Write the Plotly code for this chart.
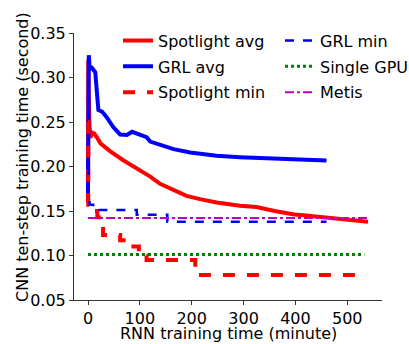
import plotly.graph_objects as go

# ---- data ----
spot_avg_x = [0, 0.5, 1.5, 3, 5, 7, 9, 11, 14, 18, 24, 43, 68, 100, 120, 139, 165, 190, 216, 248, 293, 325,
              360, 398, 420, 482, 540]
spot_avg_y = [0.16, 0.32, 0.28, 0.245, 0.232, 0.24, 0.235, 0.238, 0.236, 0.232, 0.226, 0.217, 0.207, 0.196,
              0.1887, 0.1805, 0.1738, 0.167, 0.1633, 0.1596, 0.1558, 0.1544, 0.150, 0.146, 0.145, 0.1416, 0.138]

grl_avg_x = [0, 0.5, 1.5, 3, 4.5, 6, 9, 14, 20, 27, 36, 49, 62, 75, 85, 94, 113, 120, 139, 165, 197, 248,
             293, 331, 400, 460]
grl_avg_y = [0.17, 0.30, 0.325, 0.312, 0.3085, 0.312, 0.31, 0.306, 0.2635, 0.2617, 0.2554, 0.244, 0.236,
             0.2355, 0.239, 0.2374, 0.233, 0.228, 0.2243, 0.2195, 0.2157, 0.212, 0.2105, 0.2094, 0.2078, 0.2067]

spot_min_x = [0, 0.5, 5, 18, 29, 62, 75, 98, 113, 207, 517, 530]
spot_min_y = [0.25, 0.157, 0.150, 0.143, 0.123, 0.117, 0.110, 0.100, 0.095, 0.078, 0.074, 0.074]

grl_min_x = [0, 1, 3, 10, 94, 153, 460]
grl_min_y = [0.20, 0.165, 0.157, 0.151, 0.1457, 0.138, 0.138]

single_gpu_x = [0, 533]
single_gpu_y = [0.101, 0.101]

metis_x = [0, 540]
metis_y = [0.142, 0.142]

x_ticks = [0, 100, 200, 300, 400, 500]
y_ticks = [0.05, 0.10, 0.15, 0.20, 0.25, 0.30, 0.35]

FONT = "DejaVu Sans"
FS = 16

fig = go.Figure()
fig.add_trace(go.Scatter(x=spot_avg_x, y=spot_avg_y, mode="lines", name="Spotlight avg", legendgroup="a",
                         line=dict(color="#ff0000", width=4), legend="legend"))
fig.add_trace(go.Scatter(x=grl_avg_x, y=grl_avg_y, mode="lines", name="GRL avg", legendgroup="b",
                         line=dict(color="#0000ff", width=4), legend="legend"))
fig.add_trace(go.Scatter(x=spot_min_x, y=spot_min_y, mode="lines", name="Spotlight min", legendgroup="c",
                         line=dict(color="#ff0000", width=4, dash="dash", shape="hv"), legend="legend"))
fig.add_trace(go.Scatter(x=grl_min_x, y=grl_min_y, mode="lines", name="GRL min", legendgroup="d",
                         line=dict(color="#0000ff", width=2.5, dash="dash", shape="hv"), legend="legend2"))
fig.add_trace(go.Scatter(x=single_gpu_x, y=single_gpu_y, mode="lines", name="Single GPU", legendgroup="e",
                         line=dict(color="#008000", width=3, dash="dot"), legend="legend2"))
fig.add_trace(go.Scatter(x=metis_x, y=metis_y, mode="lines", name="Metis", legendgroup="f",
                         line=dict(color="#bf00bf", width=2, dash="dashdot"), legend="legend2"))

axis_common = dict(showline=True, linecolor="#333333", linewidth=1, ticks="outside", ticklen=4,
                   tickcolor="#333333", showgrid=False, zeroline=False, mirror=False,
                   tickfont=dict(family=FONT, size=FS, color="black"))

fig.update_xaxes(range=[-27, 567], tickvals=x_ticks, ticktext=[str(v) for v in x_ticks], **axis_common)
fig.update_yaxes(range=[0.05, 0.35], tickvals=y_ticks, ticktext=[f"{v:.2f}" for v in y_ticks],
                 **axis_common)

fig.add_annotation(text="CNN ten-step training time (second)", textangle=-90, showarrow=False,
                   xref="paper", yref="paper", x=(22 - 74) / 308, y=(300 - 157) / 267,
                   xanchor="center", yanchor="middle",
                   font=dict(family=FONT, size=FS, color="black"))
fig.add_annotation(text="RNN training time (minute)", showarrow=False,
                   xref="paper", yref="paper", x=(228 - 74) / 308, y=(300 - 333) / 267,
                   xanchor="center", yanchor="middle", borderpad=0,
                   font=dict(family=FONT, size=FS, color="black"))

legend_common = dict(font=dict(family=FONT, size=FS, color="black"), bgcolor="rgba(0,0,0,0)",
                     borderwidth=0, xanchor="left", yanchor="top", tracegroupgap=2)
fig.update_layout(
    width=409, height=344,
    margin=dict(l=74, r=27, t=33, b=44, autoexpand=False),
    paper_bgcolor="white", plot_bgcolor="white",
    font=dict(family=FONT, size=FS, color="black"),
    legend=dict(x=(118 - 74) / 308, y=1.035, **legend_common),
    legend2=dict(x=(280 - 74) / 308, y=1.035, **legend_common),
)

fig.write_html("out.html")
